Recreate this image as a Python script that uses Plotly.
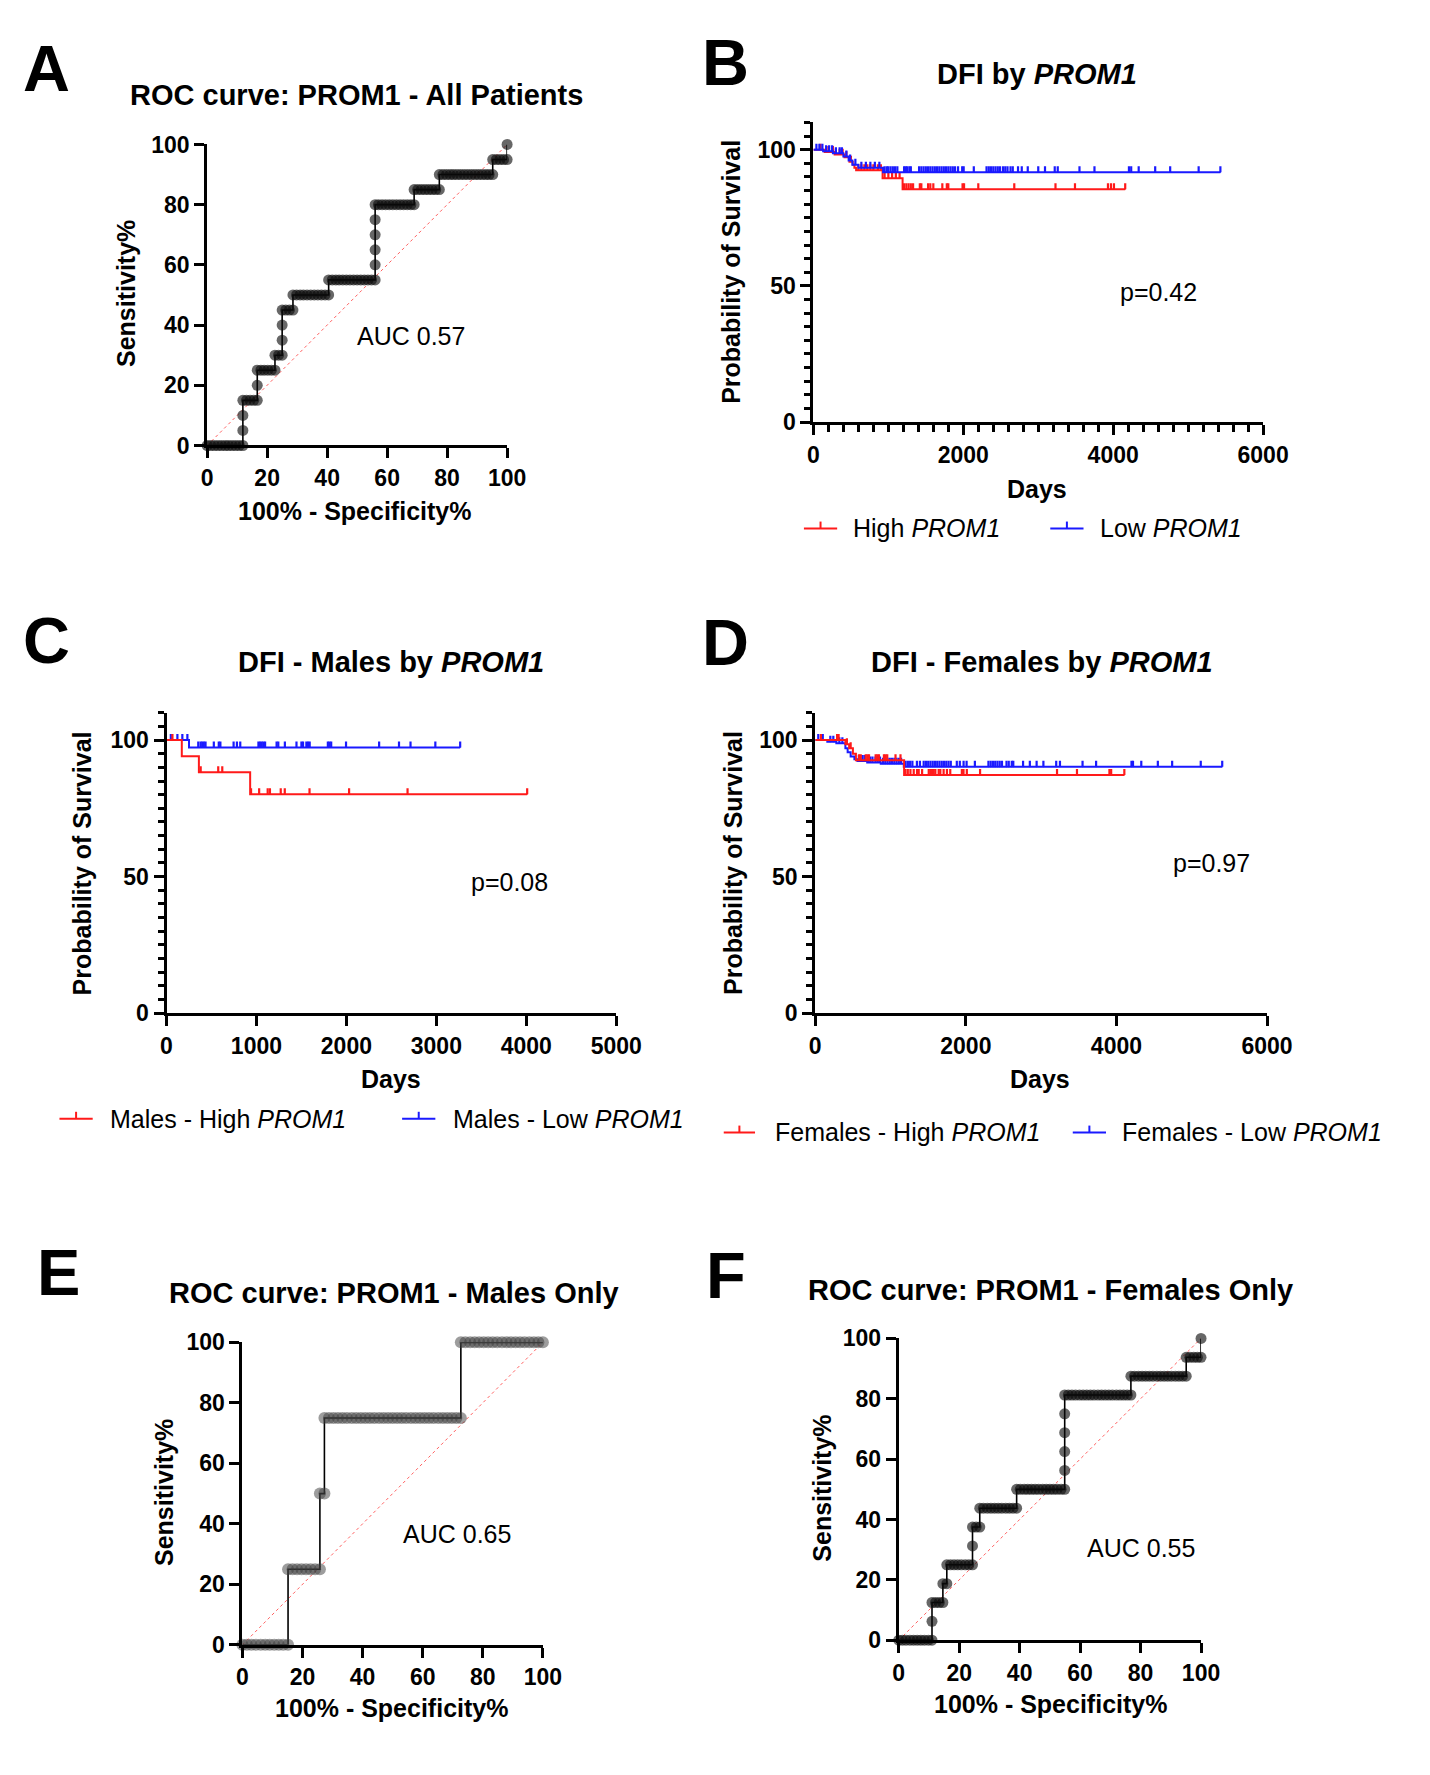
import plotly.graph_objects as go

W, H = 1430, 1775
FONT = "Liberation Sans"
RED = "#ff1a1a"
BLUE = "#1a1aff"

# ROC points: (100% - specificity%, sensitivity%)
roc_all = [
    (0, 0), (1.2, 0), (2.4, 0), (3.6, 0), (4.8, 0), (6.0, 0), (7.1, 0), (8.3, 0), (9.5, 0), (10.7, 0), (11.9, 0),
    (11.9, 5), (11.9, 10),
    (11.9, 15), (13.1, 15), (14.3, 15), (15.5, 15), (16.7, 15),
    (16.7, 20),
    (16.7, 25), (17.9, 25), (19.0, 25), (20.2, 25), (21.4, 25), (22.6, 25),
    (22.6, 30), (23.8, 30), (25.0, 30),
    (25.0, 35), (25.0, 40),
    (25.0, 45), (26.2, 45), (27.4, 45), (28.6, 45),
    (28.6, 50), (29.8, 50), (31.0, 50), (32.1, 50), (33.3, 50), (34.5, 50), (35.7, 50), (36.9, 50),
    (38.1, 50), (39.3, 50), (40.5, 50),
    (40.5, 55), (41.7, 55), (42.9, 55), (44.0, 55), (45.2, 55), (46.4, 55), (47.6, 55), (48.8, 55),
    (50.0, 55), (51.2, 55), (52.4, 55), (53.6, 55), (54.8, 55), (56.0, 55),
    (56.0, 60), (56.0, 65), (56.0, 70), (56.0, 75),
    (56.0, 80), (57.1, 80), (58.3, 80), (59.5, 80), (60.7, 80), (61.9, 80), (63.1, 80), (64.3, 80),
    (65.5, 80), (66.7, 80), (67.9, 80), (69.0, 80),
    (69.0, 85), (70.2, 85), (71.4, 85), (72.6, 85), (73.8, 85), (75.0, 85), (76.2, 85), (77.4, 85),
    (77.4, 90), (78.6, 90), (79.8, 90), (81.0, 90), (82.1, 90), (83.3, 90), (84.5, 90), (85.7, 90),
    (86.9, 90), (88.1, 90), (89.3, 90), (90.5, 90), (91.7, 90), (92.9, 90), (94.0, 90), (95.2, 90),
    (95.2, 95), (96.4, 95), (97.6, 95), (98.8, 95), (100, 95),
    (100, 100),
]

roc_males = [
    (0, 0), (1.5, 0), (3.0, 0), (4.5, 0), (6.1, 0), (7.6, 0), (9.1, 0), (10.6, 0), (12.1, 0), (13.6, 0), (15.2, 0),
    (15.2, 25), (16.7, 25), (18.2, 25), (19.7, 25), (21.2, 25), (22.7, 25), (24.2, 25), (25.8, 25),
    (25.8, 50), (27.3, 50),
    (27.3, 75), (28.8, 75), (30.3, 75), (31.8, 75), (33.3, 75), (34.8, 75), (36.4, 75), (37.9, 75),
    (39.4, 75), (40.9, 75), (42.4, 75), (43.9, 75), (45.5, 75), (47.0, 75), (48.5, 75), (50.0, 75),
    (51.5, 75), (53.0, 75), (54.5, 75), (56.1, 75), (57.6, 75), (59.1, 75), (60.6, 75), (62.1, 75),
    (63.6, 75), (65.2, 75), (66.7, 75), (68.2, 75), (69.7, 75), (71.2, 75), (72.7, 75),
    (72.7, 100), (74.2, 100), (75.8, 100), (77.3, 100), (78.8, 100), (80.3, 100), (81.8, 100),
    (83.3, 100), (84.8, 100), (86.4, 100), (87.9, 100), (89.4, 100), (90.9, 100), (92.4, 100),
    (93.9, 100), (95.5, 100), (97.0, 100), (98.5, 100), (100, 100),
]

roc_females = [
    (0, 0), (1.2, 0), (2.4, 0), (3.7, 0), (4.9, 0), (6.1, 0), (7.3, 0), (8.5, 0), (9.8, 0), (11.0, 0),
    (11.0, 6.25),
    (11.0, 12.5), (12.2, 12.5), (13.4, 12.5), (14.6, 12.5),
    (14.6, 18.75), (15.9, 18.75),
    (15.9, 25), (17.1, 25), (18.3, 25), (19.5, 25), (20.7, 25), (22.0, 25), (23.2, 25), (24.4, 25),
    (24.4, 31.25),
    (24.4, 37.5), (25.6, 37.5), (26.8, 37.5),
    (26.8, 43.75), (28.0, 43.75), (29.3, 43.75), (30.5, 43.75), (31.7, 43.75), (32.9, 43.75),
    (34.1, 43.75), (35.4, 43.75), (36.6, 43.75), (37.8, 43.75), (39.0, 43.75),
    (39.0, 50), (40.2, 50), (41.5, 50), (42.7, 50), (43.9, 50), (45.1, 50), (46.3, 50), (47.6, 50),
    (48.8, 50), (50.0, 50), (51.2, 50), (52.4, 50), (53.7, 50), (54.9, 50),
    (54.9, 56.25), (54.9, 62.5), (54.9, 68.75), (54.9, 75),
    (54.9, 81.25), (56.1, 81.25), (57.3, 81.25), (58.5, 81.25), (59.8, 81.25), (61.0, 81.25),
    (62.2, 81.25), (63.4, 81.25), (64.6, 81.25), (65.9, 81.25), (67.1, 81.25), (68.3, 81.25),
    (69.5, 81.25), (70.7, 81.25), (72.0, 81.25), (73.2, 81.25), (74.4, 81.25), (75.6, 81.25), (76.8, 81.25),
    (76.8, 87.5), (78.0, 87.5), (79.3, 87.5), (80.5, 87.5), (81.7, 87.5), (82.9, 87.5), (84.1, 87.5),
    (85.4, 87.5), (86.6, 87.5), (87.8, 87.5), (89.0, 87.5), (90.2, 87.5), (91.5, 87.5), (92.7, 87.5),
    (93.9, 87.5), (95.1, 87.5),
    (95.1, 93.75), (96.3, 93.75), (97.6, 93.75), (98.8, 93.75), (100, 93.75),
    (100, 100),
]

auc_all = "AUC 0.57"
auc_males = "AUC 0.65"
auc_females = "AUC 0.55"

# Kaplan-Meier: step times (days), survival %, last follow-up, censor times
b_high_t = [0, 150, 283, 415, 481, 525, 547, 570, 923, 1190]
b_high_s = [100, 99.2, 98.2, 97.2, 95.6, 94.5, 93.4, 92.5, 89.5, 85.5]
b_high_end = 4160
b_high_cens = [95, 200, 260, 300, 350, 390, 440, 500, 600, 640, 680, 720, 760, 800, 860, 900,
               950, 1000, 1050, 1100, 1150, 1210, 1240, 1270, 1300, 1330, 1420, 1440, 1530, 1560,
               1600, 1720, 1780, 1800, 1990, 2010, 2200, 2680, 3230, 3490, 3930, 3970, 4010, 4160]

b_low_t = [0, 130, 260, 400, 470, 520, 600, 930]
b_low_s = [100, 99.4, 98.7, 97.5, 96.0, 94.5, 93.4, 91.7]
b_low_end = 5430
b_low_cens = [40, 80, 120, 170, 210, 250, 300, 350, 380, 440, 490, 560, 640, 700, 760, 820, 880,
              950, 980, 1000, 1030, 1060, 1090, 1120, 1210, 1230, 1250, 1280, 1300, 1410, 1440, 1470,
              1500, 1530, 1560, 1590, 1620, 1650, 1680, 1710, 1740, 1770, 1800, 1830, 1860, 1890,
              1930, 1985, 2005, 2140, 2310, 2340, 2370, 2400, 2430, 2460, 2490, 2530, 2560, 2590,
              2630, 2660, 2730, 2780, 2860, 3000, 3090, 3220, 3260, 3550, 3750, 4210, 4240, 4340,
              4560, 4760, 5140, 5430]

c_high_t = [0, 170, 360, 930]
c_high_s = [100, 94.1, 88.2, 80.2]
c_high_end = 4010
c_high_cens = [66, 380, 575, 620, 940, 1030, 1125, 1150, 1270, 1315, 1590, 2030, 2680, 4010]

c_low_t = [0, 250]
c_low_s = [100, 97.3]
c_low_end = 3265
c_low_cens = [48, 121, 176, 232, 353, 379, 397, 415, 434, 526, 581, 599, 746, 783, 820, 1022, 1040,
              1059, 1077, 1096, 1224, 1243, 1316, 1445, 1500, 1518, 1555, 1574, 1592, 1794, 1812,
              1831, 1996, 2364, 2585, 2713, 2989, 3265]

d_high_t = [0, 400, 450, 500, 540, 1180]
d_high_s = [100, 98.5, 97.0, 95.0, 92.6, 87.2]
d_high_end = 4105
d_high_cens = [75, 290, 300, 310, 420, 470, 581, 604, 670, 692, 714, 802, 824, 846, 912, 934, 956,
               1066, 1132, 1198, 1229, 1264, 1308, 1352, 1374, 1419, 1507, 1529, 1551, 1573, 1595,
               1639, 1661, 1705, 1749, 1793, 1947, 1969, 2013, 2189, 3211, 3476, 3907, 3930, 4105]

d_low_t = [0, 160, 280, 400, 430, 470, 520, 560, 690, 870, 1176]
d_low_s = [100, 99.4, 98.8, 97.0, 95.5, 94.0, 93.0, 92.3, 91.8, 91.3, 90.2]
d_low_end = 5405
d_low_cens = [40, 100, 200, 240, 320, 360, 580, 600, 630, 660, 700, 730, 760, 800, 830, 860, 900,
              930, 960, 990, 1020, 1050, 1080, 1110, 1140, 1200, 1230, 1260, 1290, 1350, 1390, 1440,
              1470, 1500, 1530, 1560, 1590, 1620, 1650, 1680, 1710, 1740, 1770, 1800, 1880, 1920,
              1970, 2010, 2120, 2300, 2330, 2360, 2390, 2420, 2450, 2480, 2540, 2570, 2610, 2630,
              2760, 2850, 2940, 3030, 3200, 3250, 3550, 3730, 4200, 4220, 4330, 4550, 4740, 5120, 5405]

p_b, p_c, p_d = "p=0.42", "p=0.08", "p=0.97"


def dom_x(a, b):
    return [a / W, b / W]


def dom_y(top, bottom):
    return [1 - bottom / H, 1 - top / H]


def surv_at(times, surv, t):
    val = surv[0]
    for ti, si in zip(times, surv):
        if ti <= t:
            val = si
    return val


fig = go.Figure()

# ---- ROC panels ----
roc_panels = [
    (roc_all, "x", "y", 11, "rgba(10,10,10,0.62)"),
    (roc_males, "x5", "y5", 12, "rgba(60,60,60,0.5)"),
    (roc_females, "x6", "y6", 11, "rgba(10,10,10,0.62)"),
]
for pts, xa, ya, msize, mcol in roc_panels:
    fig.add_trace(go.Scatter(x=[0, 100], y=[0, 100], mode="lines", xaxis=xa, yaxis=ya,
                             line=dict(color="#ff6060", width=1, dash="dot"), showlegend=False))
    fig.add_trace(go.Scatter(x=[p[0] for p in pts], y=[p[1] for p in pts], mode="lines+markers",
                             xaxis=xa, yaxis=ya, cliponaxis=False, showlegend=False,
                             line=dict(color="black", width=1.6),
                             marker=dict(size=msize, color=mcol, line=dict(width=0))))

# ---- KM panels ----
km_panels = [
    (b_high_t, b_high_s, b_high_end, b_high_cens, RED, "x2", "y2"),
    (b_low_t, b_low_s, b_low_end, b_low_cens, BLUE, "x2", "y2"),
    (c_low_t, c_low_s, c_low_end, c_low_cens, BLUE, "x3", "y3"),
    (c_high_t, c_high_s, c_high_end, c_high_cens, RED, "x3", "y3"),
    (d_low_t, d_low_s, d_low_end, d_low_cens, BLUE, "x4", "y4"),
    (d_high_t, d_high_s, d_high_end, d_high_cens, RED, "x4", "y4"),
]
for t, s, end, cens, col, xa, ya in km_panels:
    fig.add_trace(go.Scatter(x=t + [end], y=s + [s[-1]], mode="lines", line_shape="hv",
                             xaxis=xa, yaxis=ya, cliponaxis=False, showlegend=False,
                             line=dict(color=col, width=2)))
    fig.add_trace(go.Scatter(x=cens, y=[surv_at(t, s, c) for c in cens], mode="markers",
                             xaxis=xa, yaxis=ya, cliponaxis=False, showlegend=False,
                             marker=dict(size=1, color=col),
                             error_y=dict(type="constant", value=2.2, valueminus=0, symmetric=False,
                                          width=0, thickness=2.2, color=col)))

tickfont = dict(family=FONT, size=23, color="black", weight="bold")
base = dict(showgrid=False, zeroline=False, showline=True, linecolor="black", linewidth=3,
            ticks="outside", ticklen=10, tickwidth=3, tickcolor="black", tickfont=tickfont)

roc_ax = dict(range=[0, 100], dtick=20, tick0=0, **base)
km_y = dict(range=[0, 110], tickvals=[0, 50, 100],
            minor=dict(dtick=5, tick0=0, ticks="outside", ticklen=6, tickwidth=3, tickcolor="black"),
            **base)

fig.update_layout(
    width=W, height=H, margin=dict(l=0, r=0, t=0, b=0),
    paper_bgcolor="white", plot_bgcolor="white", showlegend=False,
    font=dict(family=FONT, color="black"),
    xaxis=dict(domain=dom_x(197.6, 504.4), anchor="y", **roc_ax),
    yaxis=dict(domain=dom_y(125.3, 430.8), anchor="x", **roc_ax),
    xaxis2=dict(domain=dom_x(817.7, 1277.7), anchor="y2", range=[0, 6000], tickvals=[0, 2000, 4000, 6000],
                minor=dict(dtick=200, tick0=0, ticks="outside", ticklen=7, tickwidth=3, tickcolor="black"),
                **base),
    yaxis2=dict(domain=dom_y(103, 407), anchor="x2", **km_y),
    xaxis3=dict(domain=dom_x(156, 616), anchor="y3", range=[0, 5000], dtick=1000, **base),
    yaxis3=dict(domain=dom_y(702, 1007), anchor="x3", **km_y),
    xaxis4=dict(domain=dom_x(819.6, 1281.7), anchor="y4", range=[0, 6000], dtick=2000, **base),
    yaxis4=dict(domain=dom_y(702, 1007), anchor="x4", **km_y),
    xaxis5=dict(domain=dom_x(233.6, 541), anchor="y5", **roc_ax),
    yaxis5=dict(domain=dom_y(1341, 1648), anchor="x5", **roc_ax),
    xaxis6=dict(domain=dom_x(905, 1214.2), anchor="y6", **roc_ax),
    yaxis6=dict(domain=dom_y(1337, 1643.3), anchor="x6", **roc_ax),
)


def note(text, px, py, size, bold=True, angle=0, anchor="center"):
    fig.add_annotation(text=text, x=px / W, y=1 - py / H, xref="paper", yref="paper",
                       showarrow=False, textangle=angle, xanchor=anchor, yanchor="middle",
                       font=dict(family=FONT, size=size, color="black",
                                 weight="bold" if bold else "normal"))


# panel letters
for letter, px, py in [("A", 33.5, 48.6), ("B", 728, 42.3), ("C", 33.5, 629), ("D", 728, 631),
                       ("E", 45.5, 1270), ("F", 728, 1273)]:
    note(letter, px, py, 65)

# panel titles
note("ROC curve: PROM1 - All Patients", 350.3, 74.6, 29)
note("DFI by <i>PROM1</i>", 1046.8, 53.5, 29)
note("DFI - Males by <i>PROM1</i>", 385.4, 650.3, 29)
note("DFI - Females by <i>PROM1</i>", 1052, 650.3, 29)
note("ROC curve: PROM1 - Males Only", 388.3, 1291.3, 29)
note("ROC curve: PROM1 - Females Only", 1060, 1288.3, 29)

# axis titles
for txt, px, py, ang in [
    ("Sensitivity%", 114.6, 277, -90), ("100% - Specificity%", 348.2, 497, 0),
    ("Probability of Survival", 734, 255, -90), ("Days", 1046.8, 475.2, 0),
    ("Probability of Survival", 70.5, 855, -90), ("Days", 385.4, 1074, 0),
    ("Probability of Survival", 736, 855, -90), ("Days", 1049, 1074, 0),
    ("Sensitivity%", 153.6, 1493.7, -90), ("100% - Specificity%", 386, 1712, 0),
    ("Sensitivity%", 826.4, 1488.6, -90), ("100% - Specificity%", 1060, 1708, 0),
]:
    note(txt, px, py, 25, angle=ang)

# in-plot labels (data coordinates)
for txt, xv, yv, xa, ya in [
    (auc_all, 68, 36.5, "x", "y"), (auc_males, 71.5, 36.5, "x5", "y5"),
    (auc_females, 80, 30.5, "x6", "y6"),
    (p_b, 4600, 47.7, "x2", "y2"), (p_c, 3810, 47.9, "x3", "y3"), (p_d, 5263, 55, "x4", "y4"),
]:
    fig.add_annotation(text=txt, x=xv, y=yv, xref=xa, yref=ya, showarrow=False,
                       font=dict(family=FONT, size=25, color="black"))

# legends drawn by hand: line with a censor tick, then label
legend_items = [
    (RED, 808, 842, 856, 515, "High <i>PROM1</i>"),
    (BLUE, 1060, 1094, 1109, 515, "Low <i>PROM1</i>"),
    (RED, 46.5, 80.5, 96.3, 1114, "Males - High <i>PROM1</i>"),
    (BLUE, 397, 431, 447, 1114, "Males - Low <i>PROM1</i>"),
    (RED, 726, 758, 776, 1128, "Females - High <i>PROM1</i>"),
    (BLUE, 1083, 1117, 1131, 1128, "Females - Low <i>PROM1</i>"),
]
for col, x0, x1, tx, py, label in legend_items:
    fig.add_shape(type="line", xref="paper", yref="paper", x0=x0 / W, x1=x1 / W,
                  y0=1 - py / H, y1=1 - py / H, line=dict(color=col, width=2))
    xm = (x0 + x1) / 2 / W
    fig.add_shape(type="line", xref="paper", yref="paper", x0=xm, x1=xm,
                  y0=1 - py / H, y1=1 - (py - 7) / H, line=dict(color=col, width=2))
    note(label, tx, py, 25, bold=False, anchor="left")

fig.write_html("out.html")
